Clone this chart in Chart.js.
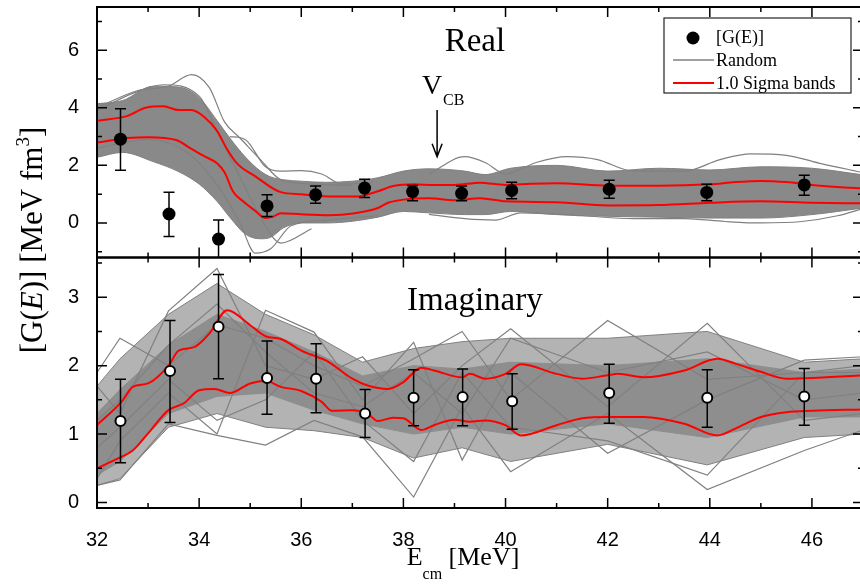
<!DOCTYPE html>
<html>
<head>
<meta charset="utf-8">
<script src="https://cdn.jsdelivr.net/npm/chart.js@4/dist/chart.umd.min.js"></script>
<style>
  html, body { margin: 0; padding: 0; background: #fff; overflow: hidden; }
  #wrap { width: 870px; height: 584px; }
</style>
</head>
<body>
<div id="wrap"><canvas id="gChart" width="870" height="584"></canvas></div>
<script>
"use strict";

// ---- tick labels ----
const xMajorTicks = [32, 34, 36, 38, 40, 42, 44, 46];
const xMinorTicks = [33, 35, 37, 39, 41, 43, 45, 47];
const realMajorTicks = [0, 2, 4, 6];
const realMinorTicks = [-1, 1, 3, 5, 7];
const imagMajorTicks = [0, 1, 2, 3];
const imagMinorTicks = [0.5, 1.5, 2.5, 3.5];

// ---- Real part: data points ----
const realE = [32.46, 33.41, 34.38, 35.33, 36.28, 37.24, 38.18, 39.14, 40.12, 42.03, 43.94, 45.85];
const realG = [2.91, 0.31, -0.56, 0.59, 0.98, 1.21, 1.09, 1.03, 1.13, 1.17, 1.06, 1.32];
const realErrHi = [3.97, 1.07, 0.10, 0.98, 1.28, 1.52, 1.30, 1.28, 1.41, 1.48, 1.34, 1.66];
const realErrLo = [1.83, -0.47, -1.30, 0.22, 0.68, 0.88, 0.77, 0.77, 0.84, 0.86, 0.77, 0.96];

// Real part: 1.0 sigma bands
const realSigHiE = [32.0, 32.6, 32.95, 33.3, 33.6, 33.85, 34.1, 34.35, 34.55, 34.75, 35.1, 35.6, 36.0, 36.6, 37.1, 37.5, 37.8, 38.2, 38.6, 39.0, 39.5, 40.0, 40.5, 41.0, 42.0, 43.0, 44.0, 44.5, 45.0, 45.5, 46.0, 46.5, 47.0];
const realSigHi = [3.55, 3.72, 4.0, 4.05, 3.92, 3.92, 3.68, 3.2, 2.55, 2.05, 1.62, 1.07, 1.0, 0.92, 0.92, 1.1, 1.28, 1.34, 1.32, 1.32, 1.40, 1.32, 1.36, 1.38, 1.30, 1.29, 1.34, 1.42, 1.46, 1.42, 1.32, 1.25, 1.20];
const realSigLoE = [32.0, 32.6, 33.0, 33.55, 33.85, 34.1, 34.35, 34.5, 34.66, 34.86, 35.1, 35.3, 35.45, 35.6, 36.0, 36.55, 37.05, 37.5, 37.7, 38.0, 38.5, 39.0, 39.5, 40.0, 41.0, 42.0, 43.0, 44.0, 45.0, 46.0, 47.0];
const realSigLo = [2.79, 2.95, 2.98, 2.88, 2.57, 2.32, 2.07, 1.75, 1.10, 0.75, 0.42, 0.17, 0.22, 0.34, 0.30, 0.27, 0.34, 0.52, 0.70, 0.81, 0.86, 0.79, 0.86, 0.75, 0.72, 0.61, 0.62, 0.70, 0.75, 0.70, 0.68];

// Real part: envelope of the dense random curves
const realBandE = [32.0, 32.5, 33.1, 33.6, 34.0, 34.35, 34.6, 34.9, 35.2, 35.4, 35.65, 36.0, 36.5, 37.0, 37.5, 38.0, 38.5, 39.2, 39.6, 40.1, 41.0, 42.0, 43.0, 44.0, 45.0, 46.0, 47.0];
const realBandHi = [4.14, 4.25, 4.75, 4.72, 4.35, 3.56, 2.95, 2.3, 1.8, 1.6, 1.5, 1.45, 1.41, 1.45, 1.57, 1.8, 1.88, 1.8, 1.68, 1.9, 2.0, 1.8, 1.9, 1.84, 1.95, 1.9, 1.67];
const realBandLo = [2.28, 2.45, 2.13, 1.78, 1.35, 0.75, 0.2, -0.38, -0.55, -0.5, -0.17, 0.0, 0.0, 0.06, 0.2, 0.4, 0.35, 0.29, 0.29, 0.40, 0.29, 0.23, 0.20, 0.17, 0.17, 0.29, 0.52];

// Real part: stray random curves
const realRandAE = [32.0, 32.8, 33.4, 33.85, 34.2, 34.5, 34.8, 35.2, 35.6, 36.2, 37.0];
const realRandA = [4.0, 4.6, 4.75, 5.15, 4.7, 3.5, 2.95, 2.2, 1.5, 1.35, 1.3];
const realRandBE = [32.0, 33.0, 33.8, 34.4, 34.8, 35.1, 35.4, 35.8, 36.5, 37.5];
const realRandB = [2.6, 2.9, 2.4, 1.2, 0.0, -1.05, -0.9, -0.1, 0.1, 0.25];
const realRandCE = [34.6, 34.9, 35.3, 35.6, 36.0, 36.4, 36.8, 37.4];
const realRandC = [3.0, 2.9, 1.95, 1.8, 1.82, 1.7, 1.35, 1.4];
const realRandDE = [38.5, 39.2, 39.6, 40.0, 40.6, 41.2, 41.8, 42.5, 43.5, 44.2, 44.8, 45.5, 46.2, 47.0];
const realRandD = [1.7, 2.3, 2.1, 1.7, 2.1, 2.3, 2.2, 1.8, 1.8, 2.2, 2.4, 2.35, 2.05, 1.75];
const realRandEE = [38.5, 39.2, 39.8, 40.3, 41.5, 42.5, 43.5, 44.3, 45.0, 45.8, 46.5, 47.0];
const realRandE = [0.3, 0.15, 0.1, 0.35, 0.25, 0.15, 0.15, 0.05, 0.0, 0.05, 0.25, 0.5];
const realRandFE = [32.0, 32.7, 33.3, 34.0, 34.4, 34.8, 35.2, 35.6, 36.2];
const realRandF = [3.9, 4.5, 4.8, 4.4, 3.0, 1.6, 0.2, -0.7, -0.2];

// ---- Imaginary part: data points ----
const imagE = [32.46, 33.43, 34.38, 35.33, 36.29, 37.25, 38.2, 39.16, 40.13, 42.03, 43.95, 45.85];
const imagG = [1.19, 1.92, 2.57, 1.82, 1.81, 1.30, 1.53, 1.54, 1.48, 1.60, 1.53, 1.55];
const imagErrHi = [1.80, 2.66, 3.33, 2.36, 2.32, 1.65, 1.94, 1.95, 1.88, 2.02, 1.94, 1.96];
const imagErrLo = [0.58, 1.17, 1.81, 1.29, 1.31, 0.95, 1.12, 1.12, 1.07, 1.16, 1.10, 1.13];

// Imaginary part: 1.0 sigma bands
const imagSigHiE = [32.0, 32.5, 32.7, 33.0, 33.4, 33.6, 33.9, 34.2, 34.55, 35.0, 35.3, 35.6, 36.0, 36.3, 36.5, 37.0, 37.3, 37.7, 38.0, 38.35, 38.6, 39.15, 39.3, 39.6, 40.0, 40.3, 41.0, 41.5, 42.0, 42.2, 42.7, 43.5, 44.15, 44.5, 45.0, 45.5, 46.0, 47.0];
const imagSigHi = [1.13, 1.49, 1.69, 1.74, 2.00, 2.22, 2.27, 2.47, 2.81, 2.59, 2.43, 2.39, 2.22, 2.13, 2.07, 1.81, 1.71, 1.66, 1.76, 1.97, 1.93, 1.83, 1.88, 1.81, 1.88, 2.02, 1.88, 1.81, 1.86, 1.88, 1.83, 1.93, 2.10, 2.03, 1.91, 1.81, 1.82, 1.86];
const imagSigLoE = [32.0, 32.4, 32.7, 33.0, 33.4, 33.7, 34.0, 34.3, 34.6, 35.0, 35.3, 35.6, 36.0, 36.4, 36.6, 37.0, 37.3, 37.5, 37.8, 38.0, 38.35, 38.6, 39.0, 39.3, 39.6, 40.0, 40.3, 41.0, 41.5, 42.0, 42.7, 43.5, 44.15, 44.5, 45.0, 45.5, 46.0, 47.0];
const imagSigLo = [0.50, 0.64, 0.76, 1.01, 1.35, 1.45, 1.64, 1.66, 1.60, 1.74, 1.78, 1.69, 1.63, 1.47, 1.34, 1.35, 1.30, 1.19, 1.24, 1.23, 1.06, 1.13, 1.21, 1.18, 1.20, 1.13, 0.98, 1.13, 1.23, 1.25, 1.25, 1.15, 0.98, 1.08, 1.25, 1.32, 1.34, 1.36];

// Imaginary part: random curves are joined at these energies
const imagNodeE = [32.0, 32.45, 33.4, 34.35, 35.3, 36.25, 37.2, 38.2, 39.15, 40.1, 42.0, 43.95, 45.85, 47.0];
const imagCoreHi = [1.3, 1.65, 2.3, 2.75, 2.5, 2.2, 1.85, 2.0, 1.95, 2.05, 2.0, 2.1, 1.9, 1.95];
const imagCoreLo = [0.4, 0.6, 1.3, 1.55, 1.6, 1.35, 1.15, 1.0, 1.1, 1.0, 1.15, 0.95, 1.25, 1.25];
const imagBandHi = [1.7, 2.1, 2.75, 3.2, 2.75, 2.45, 2.05, 2.25, 2.35, 2.4, 2.4, 2.5, 2.05, 2.1];
const imagBandLo = [0.25, 0.35, 1.1, 1.3, 1.1, 1.05, 0.95, 0.65, 0.8, 0.6, 0.85, 0.55, 0.95, 1.0];
const imagRandA = [1.9, 2.4, 2.0, 2.6, 2.4, 2.0, 1.7, 2.1, 2.5, 1.5, 2.66, 1.8, 1.9, 2.0];
const imagRandB = [0.25, 0.33, 1.15, 0.98, 0.84, 1.2, 0.96, 0.08, 1.4, 0.45, 1.3, 0.19, 0.76, 1.06];
const imagRandC = [1.7, 1.3, 2.8, 3.42, 2.0, 1.8, 2.13, 1.3, 2.0, 2.54, 1.4, 2.62, 1.2, 1.3];
const imagRandD = [0.35, 0.9, 1.6, 1.0, 2.81, 2.49, 1.5, 2.34, 0.62, 1.9, 0.72, 1.5, 2.08, 2.13];
const imagRandE = [1.2, 1.5, 2.3, 2.9, 2.2, 1.6, 1.4, 1.9, 1.3, 2.4, 1.9, 2.2, 1.5, 1.6];
const imagRandF = [0.8, 1.1, 1.8, 1.2, 1.5, 2.2, 1.2, 0.6, 1.9, 1.1, 0.9, 0.4, 1.9, 1.9];

const GRAY = '#808080';
const RED = '#ff0000';
const SERIF = '"Liberation Serif", "Times New Roman", serif';
const SANS = '"Liberation Sans", Arial, sans-serif';

const pts = (xs, ys) => xs.map((x, i) => ({x: x, y: ys[i]}));

function smoothLine(xs, ys, axis, color, width) {
  return {
    data: pts(xs, ys), yAxisID: axis, borderColor: color, borderWidth: width,
    pointRadius: 0, fill: false, cubicInterpolationMode: 'monotone'
  };
}
function straightLine(xs, ys, axis, color, width) {
  return {
    data: pts(xs, ys), yAxisID: axis, borderColor: color, borderWidth: width,
    pointRadius: 0, fill: false, tension: 0
  };
}

const datasets = [
  // 0, 1: measured points (drawn last, on top)
  {
    data: pts(realE, realG), yAxisID: 'yTop', showLine: false,
    pointRadius: 6.5, pointBackgroundColor: '#000', pointBorderColor: '#000', pointBorderWidth: 0
  },
  {
    data: pts(imagE, imagG), yAxisID: 'yBot', showLine: false,
    pointRadius: 5, pointBackgroundColor: '#fff', pointBorderColor: '#000', pointBorderWidth: 2
  },
  // sigma bands
  smoothLine(realSigHiE, realSigHi, 'yTop', RED, 2),
  smoothLine(realSigLoE, realSigLo, 'yTop', RED, 2),
  smoothLine(imagSigHiE, imagSigHi, 'yBot', RED, 2),
  smoothLine(imagSigLoE, imagSigLo, 'yBot', RED, 2),
  // random curves
  smoothLine(realRandAE, realRandA, 'yTop', GRAY, 1.2),
  smoothLine(realRandBE, realRandB, 'yTop', GRAY, 1.2),
  smoothLine(realRandCE, realRandC, 'yTop', GRAY, 1.2),
  smoothLine(realRandDE, realRandD, 'yTop', GRAY, 1.2),
  smoothLine(realRandEE, realRandE, 'yTop', GRAY, 1.2),
  smoothLine(realRandFE, realRandF, 'yTop', GRAY, 1.2),
  straightLine(imagNodeE, imagRandA, 'yBot', GRAY, 1.2),
  straightLine(imagNodeE, imagRandB, 'yBot', GRAY, 1.2),
  straightLine(imagNodeE, imagRandC, 'yBot', GRAY, 1.2),
  straightLine(imagNodeE, imagRandD, 'yBot', GRAY, 1.2),
  straightLine(imagNodeE, imagRandE, 'yBot', GRAY, 1.2),
  straightLine(imagNodeE, imagRandF, 'yBot', GRAY, 1.2)
];

// dense envelopes: low edge, then high edge filled down to it
function addBand(xs, lo, hi, axis, fillColor, lineColor, smooth) {
  const make = smooth ? smoothLine : straightLine;
  const loIdx = datasets.length;
  datasets.push(make(xs, lo, axis, lineColor, 1));
  datasets.push(Object.assign(make(xs, hi, axis, lineColor, 1),
    {fill: {target: loIdx}, backgroundColor: fillColor}));
}
addBand(realBandE, realBandLo, realBandHi, 'yTop', '#898989', GRAY, true);
addBand(imagNodeE, imagCoreLo, imagCoreHi, 'yBot', '#8e8e8e', '#8e8e8e', false);
addBand(imagNodeE, imagBandLo, imagBandHi, 'yBot', '#b3b3b3', GRAY, false);

function drawErrorBars(chart, yScale, xs, his, los) {
  const ctx = chart.ctx, x = chart.scales.x;
  ctx.save();
  ctx.beginPath();
  ctx.rect(x.left, yScale.top, x.right - x.left, yScale.bottom - yScale.top);
  ctx.clip();
  ctx.strokeStyle = '#000';
  ctx.lineWidth = 1.5;
  xs.forEach((e, i) => {
    const px = x.getPixelForValue(e);
    const top = yScale.getPixelForValue(his[i]);
    const bot = yScale.getPixelForValue(los[i]);
    ctx.beginPath();
    ctx.moveTo(px, top); ctx.lineTo(px, bot);
    ctx.moveTo(px - 5.5, top); ctx.lineTo(px + 5.5, top);
    ctx.moveTo(px - 5.5, bot); ctx.lineTo(px + 5.5, bot);
    ctx.stroke();
  });
  ctx.restore();
}

function drawPanelFrame(ctx, x, y, majors, minors) {
  ctx.strokeStyle = '#000';
  ctx.lineWidth = 2;
  ctx.strokeRect(x.left, y.top, x.right - x.left, y.bottom - y.top);
  ctx.lineWidth = 1.5;
  ctx.beginPath();
  const xt = (v, len) => {
    const p = x.getPixelForValue(v);
    ctx.moveTo(p, y.bottom); ctx.lineTo(p, y.bottom - len);
    ctx.moveTo(p, y.top); ctx.lineTo(p, y.top + len);
  };
  xMajorTicks.forEach(v => xt(v, 10));
  xMinorTicks.forEach(v => xt(v, 5));
  const yt = (v, len) => {
    const p = y.getPixelForValue(v);
    ctx.moveTo(x.left, p); ctx.lineTo(x.left + len, p);
    ctx.moveTo(x.right, p); ctx.lineTo(x.right - len, p);
  };
  majors.forEach(v => yt(v, 10));
  minors.forEach(v => yt(v, 5));
  ctx.stroke();
}

// draws a run of [text, font, dy] pieces starting at (x0, y0)
function drawRun(ctx, pieces, x0, y0) {
  let cx = x0;
  pieces.forEach(p => {
    ctx.font = p[1];
    ctx.fillText(p[0], cx, y0 + (p[2] || 0));
    cx += ctx.measureText(p[0]).width;
  });
}
function runWidth(ctx, pieces) {
  let w = 0;
  pieces.forEach(p => { ctx.font = p[1]; w += ctx.measureText(p[0]).width; });
  return w;
}

const decor = {
  id: 'decor',
  beforeDatasetDraw(chart, args) {
    if (args.index === 0) drawErrorBars(chart, chart.scales.yTop, realE, realErrHi, realErrLo);
    if (args.index === 1) drawErrorBars(chart, chart.scales.yBot, imagE, imagErrHi, imagErrLo);
  },
  afterDraw(chart) {
    const ctx = chart.ctx;
    const x = chart.scales.x, yT = chart.scales.yTop, yB = chart.scales.yBot;
    ctx.save();
    drawPanelFrame(ctx, x, yT, realMajorTicks, realMinorTicks);
    drawPanelFrame(ctx, x, yB, imagMajorTicks, imagMinorTicks);

    ctx.fillStyle = '#000';
    ctx.textAlign = 'center';
    ctx.textBaseline = 'alphabetic';
    ctx.font = '33px ' + SERIF;
    ctx.fillText('Real', x.getPixelForValue(39.4), yT.getPixelForValue(5.96));
    ctx.fillText('Imaginary', x.getPixelForValue(39.4), yB.getPixelForValue(2.81));

    // V_CB arrow
    const ax = x.getPixelForValue(38.66);
    const aTop = yT.getPixelForValue(3.92), aTip = yT.getPixelForValue(2.3);
    ctx.strokeStyle = '#000';
    ctx.lineWidth = 1.5;
    ctx.beginPath();
    ctx.moveTo(ax, aTop); ctx.lineTo(ax, aTip);
    ctx.moveTo(ax - 5, aTip - 13); ctx.lineTo(ax, aTip); ctx.lineTo(ax + 5, aTip - 13);
    ctx.stroke();
    ctx.textAlign = 'right';
    ctx.font = '28px ' + SERIF;
    ctx.fillText('V', ax + 5, aTop - 16);
    ctx.textAlign = 'left';
    ctx.font = '16px ' + SERIF;
    ctx.fillText('CB', ax + 6, aTop - 5);

    // legend
    const lx = x.right - 199, ly = yT.top + 11;
    ctx.strokeStyle = '#222';
    ctx.lineWidth = 1.2;
    ctx.strokeRect(lx, ly, 187, 75);
    ctx.beginPath();
    ctx.arc(lx + 29, ly + 20, 6.5, 0, Math.PI * 2);
    ctx.fillStyle = '#000';
    ctx.fill();
    ctx.lineWidth = 1.5;
    ctx.strokeStyle = GRAY;
    ctx.beginPath(); ctx.moveTo(lx + 9, ly + 42); ctx.lineTo(lx + 50, ly + 42); ctx.stroke();
    ctx.lineWidth = 2;
    ctx.strokeStyle = RED;
    ctx.beginPath(); ctx.moveTo(lx + 9, ly + 65); ctx.lineTo(lx + 50, ly + 65); ctx.stroke();
    ctx.fillStyle = '#000';
    ctx.textBaseline = 'middle';
    ctx.font = '18px ' + SERIF;
    ctx.fillText('[G(E)]', lx + 52, ly + 20);
    ctx.fillText('Random', lx + 52, ly + 43);
    ctx.fillText('1.0 Sigma bands', lx + 52, ly + 66);

    // x axis title: E_cm [MeV]
    ctx.textBaseline = 'alphabetic';
    ctx.textAlign = 'left';
    const big = '26px ' + SERIF, sub = '16px ' + SERIF;
    const xPieces = [['E', big], ['cm', sub, 14], [' [MeV]', big]];
    const xw = runWidth(ctx, xPieces);
    drawRun(ctx, xPieces, 463 - xw / 2, 565);

    // y axis title: [G(E)] [MeV fm^3]
    const yBig = '31px ' + SERIF, yIt = 'italic 31px ' + SERIF, ySup = '19px ' + SERIF;
    const yPieces = [['[G(', yBig], ['E', yIt], [')] [MeV fm', yBig], ['3', ySup, -13], [']', yBig]];
    const yw = runWidth(ctx, yPieces);
    ctx.translate(42, 240);
    ctx.rotate(-Math.PI / 2);
    drawRun(ctx, yPieces, -yw / 2, 0);
    ctx.restore();
  }
};

const tickFont = {family: SANS, size: 20};
const fitY = s => { s.width = 97; s.paddingTop = 0; s.paddingBottom = 0; };

new Chart(document.getElementById('gChart'), {
  type: 'line',
  data: {datasets: datasets},
  plugins: [decor],
  options: {
    responsive: false,
    animation: false,
    events: [],
    devicePixelRatio: 1,
    layout: {padding: {top: 4, right: 5, bottom: 0, left: 0}},
    plugins: {legend: {display: false}, tooltip: {enabled: false}},
    scales: {
      x: {
        type: 'linear', position: 'bottom', min: 32, max: 47,
        grid: {display: false}, border: {display: false},
        ticks: {color: '#000', font: tickFont, padding: 12, maxRotation: 0},
        afterBuildTicks: s => { s.ticks = xMajorTicks.map(v => ({value: v})); },
        afterFit: s => { s.height = 76; s.paddingLeft = 0; s.paddingRight = 0; }
      },
      // stacked panels: the one listed first ends up at the bottom
      yBot: {
        type: 'linear', position: 'left', stack: 'panels', stackWeight: 1,
        min: -0.08, max: 3.58,
        grid: {display: false}, border: {display: false},
        ticks: {color: '#000', font: tickFont, padding: 10},
        afterBuildTicks: s => { s.ticks = imagMajorTicks.map(v => ({value: v})); },
        afterFit: fitY
      },
      yTop: {
        type: 'linear', position: 'left', stack: 'panels', stackWeight: 1,
        min: -1.2, max: 7.5,
        grid: {display: false}, border: {display: false},
        ticks: {color: '#000', font: tickFont, padding: 10},
        afterBuildTicks: s => { s.ticks = realMajorTicks.map(v => ({value: v})); },
        afterFit: fitY
      }
    }
  }
});
</script>
</body>
</html>
